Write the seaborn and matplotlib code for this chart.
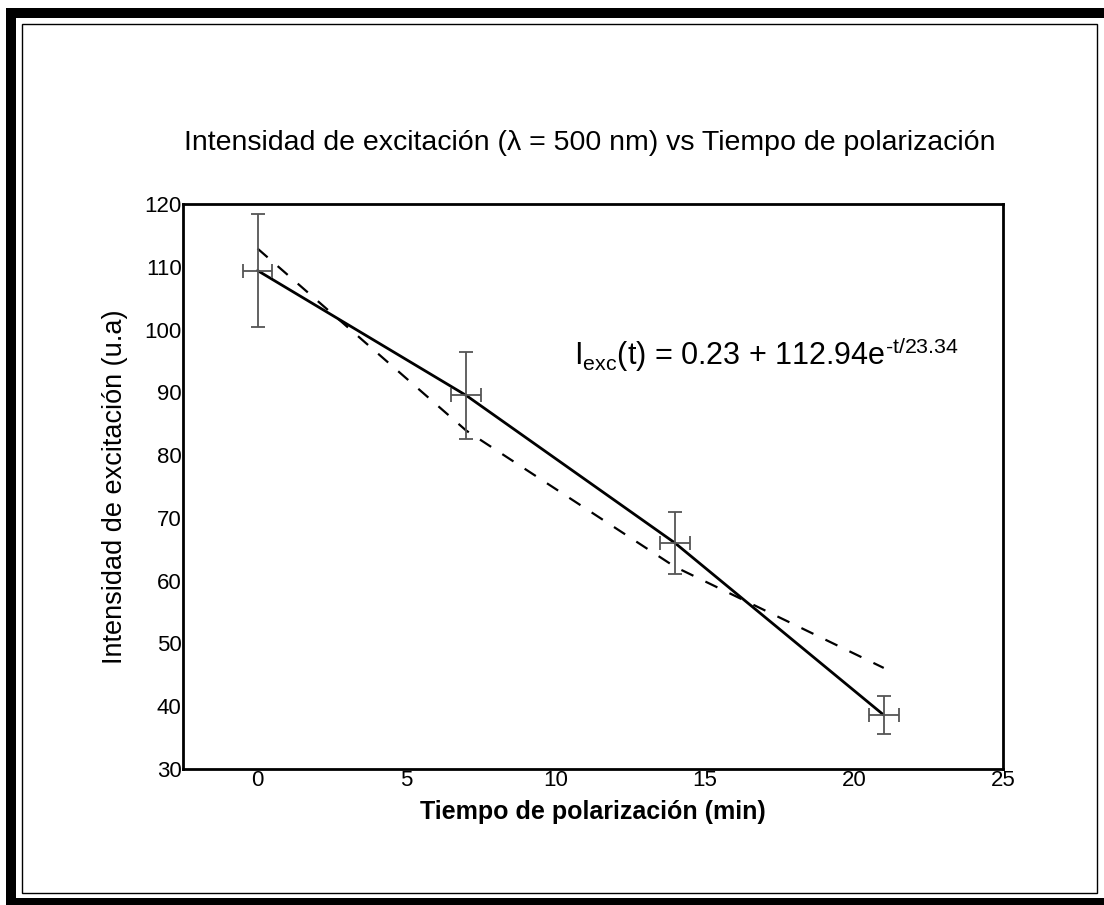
import matplotlib
matplotlib.use("Agg")
import matplotlib.pyplot as plt
import seaborn as sns
import pandas as pd
from matplotlib.patches import Rectangle

# ---- data ----
tiempo = [0, 7, 14, 21]
intensidad = [109.4, 89.5, 66.0, 38.6]
err_y = [9.0, 7.0, 5.0, 3.0]
err_x = [0.5, 0.5, 0.5, 0.5]
ajuste = [112.9, 83.9, 62.2, 46.1]   # dashed exponential fit, read at the same times
x_ticks = [0, 5, 10, 15, 20, 25]
y_ticks = [30, 40, 50, 60, 70, 80, 90, 100, 110, 120]

titulo = "Intensidad de excitación (λ = 500 nm) vs Tiempo de polarización"
x_label = "Tiempo de polarización (min)"
y_label = "Intensidad de excitación (u.a)"
formula = "I$_{\\mathrm{exc}}$(t) = 0.23 + 112.94e$^{\\mathrm{\u2010t/23.34}}$"

sns.set_theme(style="white")
plt.rcParams["font.family"] = ["Liberation Sans", "DejaVu Sans"]
plt.rcParams["mathtext.fontset"] = "custom"
plt.rcParams["mathtext.rm"] = "Liberation Sans"
plt.rcParams["mathtext.it"] = "Liberation Sans:italic"
plt.rcParams["text.color"] = "black"
plt.rcParams["axes.labelcolor"] = "black"

df = pd.DataFrame({"t": tiempo, "I": intensidad, "fit": ajuste})

fig = plt.figure(figsize=(11.04, 9.05), dpi=100)
W, H = 1104, 905

# outer frame: thick black shadow + thin inner border
fig.patches.append(Rectangle((6 / W, 0), (W - 6) / W, (905 - 8) / H,
                             transform=fig.transFigure, facecolor="black",
                             edgecolor="none", zorder=-3))
fig.patches.append(Rectangle((16 / W, (905 - 898) / H), (W - 16) / W, (898 - 18) / H,
                             transform=fig.transFigure, facecolor="white",
                             edgecolor="none", zorder=-2))
fig.patches.append(Rectangle((22 / W, (905 - 893) / H), (1097 - 22) / W, (893 - 24) / H,
                             transform=fig.transFigure, facecolor="none",
                             edgecolor="black", linewidth=1.0, zorder=-1))

ax = fig.add_axes([183 / W, (905 - 769) / H, (1003 - 183) / W, (769 - 204) / H])
ax.set_zorder(1)
ax.set_facecolor("white")

sns.lineplot(data=df, x="t", y="fit", ax=ax, color="black", linewidth=1.6,
             zorder=3)
ax.lines[-1].set_dashes([6, 6])
sns.lineplot(data=df, x="t", y="I", ax=ax, color="black", linewidth=2.0, zorder=4)

ax.errorbar(tiempo, intensidad, yerr=err_y, xerr=err_x, fmt="none",
            ecolor="#555555", elinewidth=1.3, capsize=5, capthick=1.3, zorder=5)

ax.set_xlim(-2.5, 25)
ax.set_ylim(30, 120)
ax.set_xticks(x_ticks)
ax.set_yticks(y_ticks)
ax.tick_params(axis="both", length=0, labelsize=16, colors="black", pad=1)
for s in ax.spines.values():
    s.set_color("black")
    s.set_linewidth(2.0)

ax.set_xlabel(x_label, fontsize=18, fontweight="bold", labelpad=6)
ax.set_ylabel(y_label, fontsize=19.5, labelpad=12)

fig.text(590 / W, (905 - 143) / H, titulo, fontsize=20.5, ha="center", va="center")
ax.text(10.6, 96.0, formula, fontsize=22, ha="left", va="center")

fig.savefig("out.png", dpi=100)
